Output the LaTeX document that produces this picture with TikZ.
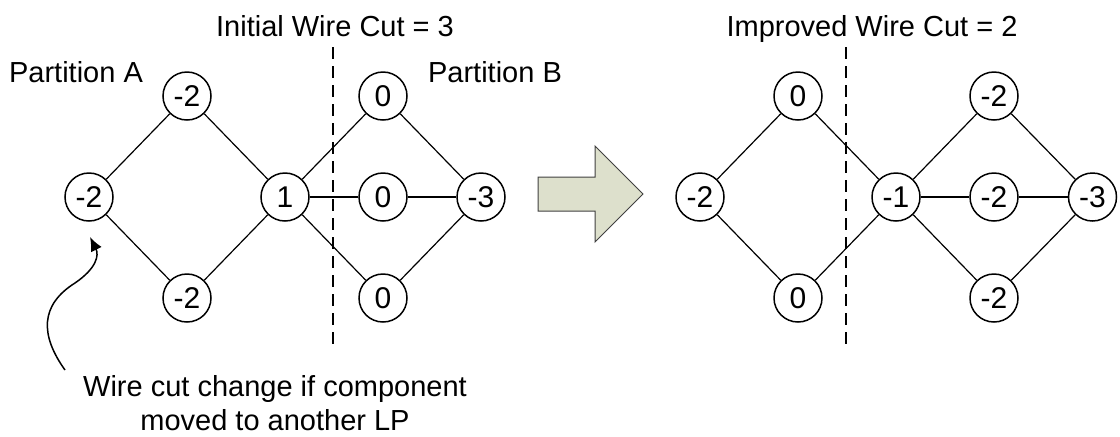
\documentclass[tikz,border=0pt]{standalone}
\usepackage{fontspec}
\setmainfont{Liberation Sans}
\usepackage{tikz}
\usetikzlibrary{arrows.meta}
\tikzset{>=latex}
\definecolor{arrowfill}{RGB}{221,224,204}
\tikzstyle{vertex}=[circle,draw,line width=0.75pt,minimum size=24pt,inner sep=0pt,font=\fontsize{15}{17}\selectfont]
\tikzstyle{wire}=[line width=0.6pt]
\tikzstyle{cutline}=[line width=0.6pt,dash pattern=on 6pt off 3.5pt]
\tikzstyle{cuttext}=[font=\fontsize{14.5}{17}\selectfont,anchor=base,inner sep=0pt]
\tikzstyle{movearrow}=[fill=arrowfill,draw=black!75,line width=0.5pt]

\begin{document}
\begin{tikzpicture}[x=0.5pt,y=-0.5pt]
	\useasboundingbox (0,0) rectangle (1120,436);
	
	% initial partition
	\node[vertex] (aw) at (89,197) {-2};
	\node[vertex] (an) at (187,96) {-2};
	\node[vertex] (as) at (187,298) {-2};
	\node[vertex] (ac) at (285,197) {1};
	\node[vertex] (bn) at (383,96) {0};
	\node[vertex] (bm) at (383,197) {0};
	\node[vertex] (bs) at (383,298) {0};
	\node[vertex] (be) at (481,197) {-3};
	\foreach \u/\v in {aw/an,aw/as,an/ac,as/ac,ac/bn,ac/bm,ac/bs,bn/be,bm/be,bs/be}{
		\draw[wire] (\u) -- (\v);
	}
	\coordinate (cuta top) at (333,47);
	\coordinate (cuta bot) at (333,348);
	\draw[cutline] (cuta top) -- (cuta bot);
	\node[cuttext] (initcut) at (335,36) {Initial Wire Cut = 3};
	\node[cuttext] (parta) at (76,82) {Partition A};
	\node[cuttext] (partb) at (495,82) {Partition B};
	
	% note on the gain of a single vertex (base is the last line)
	\node[cuttext,align=center] (gainnote) at (275,430) {Wire cut change if component\\moved to another LP};
	\coordinate (hint) at (65,370);
	\coordinate (hinttip) at (90,237);
	\draw[line width=0.75pt,-{Latex[length=7pt,width=6pt]}] (hint)
		.. controls (40,335) and (40,305) .. (75,283)
		.. controls (97,268) and (99,255) .. (hinttip);
	
	% move step
	\draw[movearrow] (538,177) -- (595,177) -- (595,146) -- (643,194)
		-- (595,242) -- (595,211) -- (538,211) -- cycle;
	
	% improved partition
	\node[vertex] (cw) at (700,197) {-2};
	\node[vertex] (cn) at (798,96) {0};
	\node[vertex] (cs) at (798,298) {0};
	\node[vertex] (cc) at (896,197) {-1};
	\node[vertex] (dn) at (994,96) {-2};
	\node[vertex] (dm) at (994,197) {-2};
	\node[vertex] (ds) at (994,298) {-2};
	\node[vertex] (de) at (1092.5,197) {-3};
	\foreach \u/\v in {cw/cn,cw/cs,cn/cc,cs/cc,cc/dn,cc/dm,cc/ds,dn/de,dm/de,ds/de}{
		\draw[wire] (\u) -- (\v);
	}
	\coordinate (cutb top) at (846,47);
	\coordinate (cutb bot) at (846,348);
	\draw[cutline] (cutb top) -- (cutb bot);
	\node[cuttext] (newcut) at (872,36) {Improved Wire Cut = 2};
	
\end{tikzpicture}
\end{document}
